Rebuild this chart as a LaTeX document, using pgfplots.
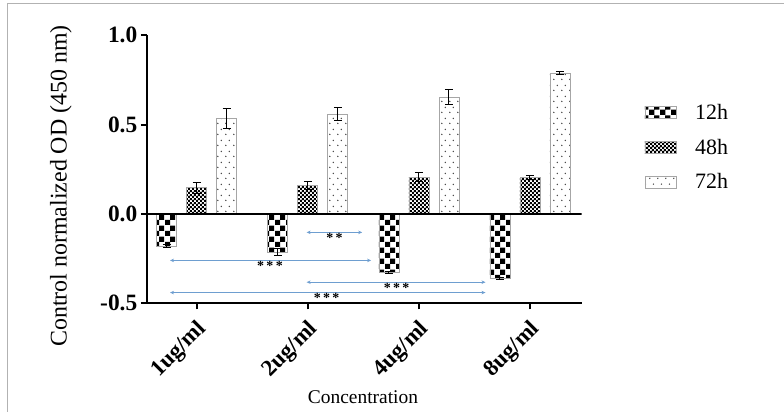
\documentclass[border=0pt]{standalone}
\usepackage{pgfplots}
\pgfplotsset{compat=1.18}
\usepackage{fontspec}
\setmainfont{Liberation Serif}
\usetikzlibrary{patterns,arrows.meta}
\definecolor{sigblue}{RGB}{110,158,208}

\pgfdeclarepatternformonly{bigchecker}{\pgfpointorigin}{\pgfqpoint{11bp}{11bp}}{\pgfqpoint{11bp}{11bp}}{%
  \pgfpathrectangle{\pgfpointorigin}{\pgfqpoint{5.6bp}{5.6bp}}%
  \pgfpathrectangle{\pgfqpoint{5.5bp}{5.5bp}}{\pgfqpoint{5.6bp}{5.6bp}}%
  \pgfusepath{fill}}
\pgfdeclarepatternformonly{smallchecker}{\pgfpointorigin}{\pgfqpoint{4.4bp}{4.4bp}}{\pgfqpoint{4.4bp}{4.4bp}}{%
  \pgfpathrectangle{\pgfpointorigin}{\pgfqpoint{2.25bp}{2.25bp}}%
  \pgfpathrectangle{\pgfqpoint{2.2bp}{2.2bp}}{\pgfqpoint{2.25bp}{2.25bp}}%
  \pgfusepath{fill}}
\pgfdeclarepatternformonly{sparsedots}{\pgfpointorigin}{\pgfqpoint{8bp}{11bp}}{\pgfqpoint{8bp}{11bp}}{%
  \pgfpathcircle{\pgfqpoint{2bp}{2.75bp}}{0.85bp}%
  \pgfpathcircle{\pgfqpoint{6bp}{8.25bp}}{0.85bp}%
  \pgfusepath{fill}}

\pgfplotsset{myerr/.style={error bars/.cd, y dir=both, y explicit,
    error bar style={line width=1bp, black, solid},
    error mark options={rotate=90, mark size=4bp, line width=1bp, black}}}

\begin{document}
\begin{tikzpicture}
\path[use as bounding box] (0,0) rectangle (784bp,412bp);
\draw[gray!60, line width=1bp] (7.5bp,0) -- (7.5bp,408bp) -- (784bp,408bp);
\begin{axis}[
  at={(147bp,108.7bp)}, anchor=south west,
  scale only axis, width=434.5bp, height=268bp,
  xmin=-0.447, xmax=3.464, ymin=-0.5, ymax=1.0,
  axis x line*=bottom, axis y line*=left,
  axis line style={line width=2.2bp, black},
  xtick={0,1,2,3}, xticklabels={1ug/ml,2ug/ml,4ug/ml,8ug/ml},
  ytick={-0.5,0,0.5,1}, yticklabels={-0.5,0.0,0.5,1.0},
  tick align=outside, major tick length=6bp,
  tick style={line width=2.2bp, black},
  yticklabel style={font=\fontsize{23.5}{23.5}\selectfont\bfseries, inner sep=3.5bp},
  xticklabel style={xshift=-1bp, yshift=-6bp, font=\fontsize{23}{23}\selectfont\bfseries, rotate=45, anchor=north east, inner sep=2bp},
  xlabel={Concentration},
  ylabel={Control normalized OD (450 nm)},
  every axis x label/.style={at={(axis description cs:0.497,-0.349)}, anchor=center, font=\fontsize{19.5}{19.5}\selectfont},
  every axis y label/.style={at={(axis description cs:-0.198,0.438)}, anchor=center, rotate=90, font=\fontsize{24}{24}\selectfont},
  ybar=10bp, bar width=20bp,
  legend style={at={(axis description cs:1.145,0.743)}, anchor=north west, draw=none, fill=none,
    inner sep=0pt, outer sep=0pt,
    font=\fontsize{22}{22}\selectfont, row sep=18bp,
    nodes={inner sep=0pt},
    /tikz/every odd column/.append style={column sep=19bp}},
  legend cell align=left,
  legend image code/.code={\draw[#1, draw=gray!70, line width=0.6bp] (0bp,-6bp) rectangle (31bp,6bp);},
]
\addplot[draw=gray!70, line width=0.6bp, pattern=bigchecker, pattern color=black, myerr]
  coordinates {(0,-0.180) +- (0,0.010) (1,-0.215) +- (0,0.020) (2,-0.328) +- (0,0.005) (3,-0.362) +- (0,0.005)};
\addplot[draw=gray!70, line width=0.6bp, pattern=smallchecker, pattern color=black, myerr]
  coordinates {(0,0.147) +- (0,0.030) (1,0.158) +- (0,0.022) (2,0.205) +- (0,0.026) (3,0.205) +- (0,0.013)};
\addplot[draw=gray!70, line width=0.6bp, pattern=sparsedots, pattern color=black!70, myerr]
  coordinates {(0,0.535) +- (0,0.056) (1,0.560) +- (0,0.037) (2,0.653) +- (0,0.041) (3,0.787) +- (0,0.008)};
\legend{12h,48h,72h}
\draw[line width=2bp, black] (axis cs:-0.447,0) -- (axis cs:3.464,0);
\tikzset{sig/.style={{Stealth[length=4bp,width=3.5bp]}-{Stealth[length=4bp,width=3.5bp]}, sigblue, line width=0.8bp},
  stars/.style={font=\fontsize{14}{14}\selectfont\bfseries, anchor=center}}
\draw[sig] (axis cs:0.99,-0.103) -- (axis cs:1.49,-0.103);
\node[stars] at (axis cs:1.24,-0.135) {*\,*};
\draw[sig] (axis cs:-0.24,-0.260) -- (axis cs:1.57,-0.260);
\node[stars] at (axis cs:0.66,-0.292) {*\,*\,*};
\draw[sig] (axis cs:0.99,-0.382) -- (axis cs:2.60,-0.382);
\node[stars] at (axis cs:1.80,-0.414) {*\,*\,*};
\draw[sig] (axis cs:-0.24,-0.440) -- (axis cs:2.60,-0.440);
\node[stars] at (axis cs:1.17,-0.472) {*\,*\,*};
\end{axis}
\end{tikzpicture}
\end{document}
